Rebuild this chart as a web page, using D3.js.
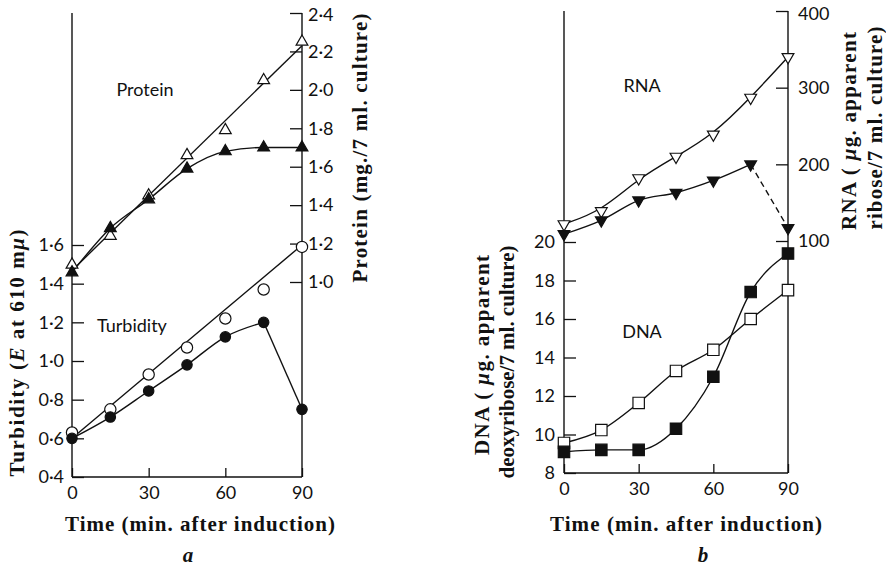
<!DOCTYPE html>
<html><head><meta charset="utf-8">
<script src="https://cdn.jsdelivr.net/npm/d3@7"></script>
<style>
body{margin:0;background:#fff}
svg{display:block}
.tick text{font-family:Lato,"Open Sans",sans-serif;font-size:18px;fill:#111}
.title{font-family:"Liberation Serif","Times New Roman",serif;font-weight:bold;font-size:21px;fill:#111}
.lab{font-family:Lato,"Open Sans",sans-serif;font-size:18px;fill:#111}
</style></head><body>
<svg id="c" width="886" height="567"></svg>
<script>
// ---- data ----
const time = [0, 15, 30, 45, 60, 75, 90];
const timeTicks = [0, 30, 60, 90];
const turbidityControl = [0.63, 0.75, 0.93, 1.07, 1.22, 1.37, 1.59];
const turbidityInduced = [0.60, 0.71, 0.845, 0.98, 1.125, 1.20, 0.75];
const turbidityControlFit = [[0, 0.60], [90, 1.60]];
const proteinControl = [1.09, 1.24, 1.45, 1.66, 1.79, 2.05, 2.25];
const proteinInduced = [1.05, 1.28, 1.43, 1.59, 1.68, 1.70, 1.70];
const proteinControlFit = [[0, 1.06], [90, 2.23]];
const turbidityTicks = [0.4, 0.6, 0.8, 1.0, 1.2, 1.4, 1.6];
const proteinTicks = [1.0, 1.2, 1.4, 1.6, 1.8, 2.0, 2.2, 2.4];
const rnaControl = [122, 139, 182, 210, 239, 287, 340];
const rnaInduced = [109, 127, 153, 163, 179, 200, 117];
const dnaControl = [9.56, 10.23, 11.64, 13.3, 14.4, 16.0, 17.5];
const dnaInduced = [9.1, 9.2, 9.2, 10.3, 13.0, 17.4, 19.4];
const dnaTicks = [8, 10, 12, 14, 16, 18, 20];
const rnaTicks = [100, 200, 300, 400];

const svg = d3.select('#c');
const ink = '#111';
const dot = d => d3.format('.1f')(d).replace('.', '·');

// ---- scales ----
const xa = d3.scaleLinear().domain([0, 90]).range([72, 302]);
const yTurb = d3.scaleLinear().domain([0.4, 1.6]).range([477, 245]);
const yProt = d3.scaleLinear().domain([1.0, 2.4]).range([282, 13]);
const xb = d3.scaleLinear().domain([0, 90]).range([564, 788]);
const yDna = d3.scaleLinear().domain([8, 20]).range([473, 242]);
const yRna = d3.scaleLinear().domain([100, 400]).range([241, 11]);

function styleAxis(g) {
  g.select('.domain').remove();
  g.selectAll('.tick line').attr('stroke', ink).attr('stroke-width', 1.3);
}
function vline(x, y1, y2) {
  svg.append('line').attr('x1', x).attr('x2', x).attr('y1', y1).attr('y2', y2)
    .attr('stroke', ink).attr('stroke-width', 1.4);
}
function hline(x1, x2, y) {
  svg.append('line').attr('x1', x1).attr('x2', x2).attr('y1', y).attr('y2', y)
    .attr('stroke', ink).attr('stroke-width', 1.4);
}

// ---- panel a axes ----
vline(xa(0), yProt(2.4), yTurb(0.4));
vline(xa(90), yProt(2.4), yTurb(0.4));
hline(xa(0), xa(90), yTurb(0.4));
svg.append('g').attr('transform', `translate(${xa(0)},0)`)
  .call(d3.axisLeft(yTurb).tickValues(turbidityTicks).tickFormat(dot).tickSizeInner(-12).tickSizeOuter(0).tickPadding(8))
  .call(styleAxis);
const protAxis = svg.append('g').attr('transform', `translate(${xa(90)},0)`)
  .call(d3.axisRight(yProt).tickValues(proteinTicks).tickFormat(dot).tickSizeInner(-12).tickSizeOuter(0).tickPadding(6))
  .call(styleAxis);
protAxis.selectAll('.tick text').filter(d => d === 2.4).attr('dy', '0.42em');
svg.append('g').attr('transform', `translate(0,${yTurb(0.4)})`)
  .call(d3.axisBottom(xa).tickValues(timeTicks).tickSizeInner(-9).tickSizeOuter(0).tickPadding(9))
  .call(styleAxis);

// ---- panel b axes ----
vline(xb(0), yRna(400), yDna(8));
vline(xb(90), yRna(400), yDna(8));
hline(xb(0), xb(90), yDna(8));
svg.append('g').attr('transform', `translate(${xb(0)},0)`)
  .call(d3.axisLeft(yDna).tickValues(dnaTicks).tickSizeInner(-12).tickSizeOuter(0).tickPadding(9))
  .call(styleAxis);
const rnaAxis = svg.append('g').attr('transform', `translate(${xb(90)},0)`)
  .call(d3.axisRight(yRna).tickValues(rnaTicks).tickSizeInner(-12).tickSizeOuter(0).tickPadding(10))
  .call(styleAxis);
rnaAxis.selectAll('.tick text').filter(d => d === 400).attr('dy', '0.45em');
svg.append('g').attr('transform', `translate(0,${yDna(8)})`)
  .call(d3.axisBottom(xb).tickValues(timeTicks).tickSizeInner(-9).tickSizeOuter(0).tickPadding(9))
  .call(styleAxis);

// ---- lines ----
function drawLine(pts, x, y, curve, dash) {
  const gen = d3.line().x(d => x(d[0])).y(d => y(d[1])).curve(curve);
  svg.append('path').attr('d', gen(pts)).attr('fill', 'none').attr('stroke', ink)
    .attr('stroke-width', 1.4).attr('stroke-dasharray', dash || null);
}
const pairs = vals => time.map((t, i) => [t, vals[i]]);

drawLine(proteinControlFit, xa, yProt, d3.curveLinear);
drawLine(pairs(proteinInduced), xa, yProt, d3.curveMonotoneX);
drawLine(turbidityControlFit, xa, yTurb, d3.curveLinear);
drawLine(pairs(turbidityInduced).slice(0, 6), xa, yTurb, d3.curveMonotoneX);
drawLine(pairs(turbidityInduced).slice(5), xa, yTurb, d3.curveLinear);

drawLine(pairs(rnaControl), xb, yRna, d3.curveBasis);
drawLine(pairs(rnaInduced).slice(0, 6), xb, yRna, d3.curveMonotoneX);
drawLine(pairs(rnaInduced).slice(5), xb, yRna, d3.curveLinear, '6,4');
drawLine(pairs(dnaControl), xb, yDna, d3.curveMonotoneX);
drawLine(pairs(dnaInduced), xb, yDna, d3.curveMonotoneX);

// ---- markers ----
function markers(vals, x, y, type, size, filled, rot) {
  const sym = d3.symbol().type(type).size(size);
  svg.append('g').selectAll('path').data(pairs(vals)).join('path')
    .attr('d', sym)
    .attr('transform', d => `translate(${x(d[0])},${y(d[1])}) rotate(${rot || 0})`)
    .attr('fill', filled ? ink : '#fff')
    .attr('stroke', ink).attr('stroke-width', 1.2);
}
markers(proteinControl, xa, yProt, d3.symbolTriangle, 60, false);
markers(proteinInduced, xa, yProt, d3.symbolTriangle, 60, true);
markers(turbidityControl, xa, yTurb, d3.symbolCircle, 100, false);
markers(turbidityInduced, xa, yTurb, d3.symbolCircle, 85, true);
markers(rnaControl, xb, yRna, d3.symbolTriangle, 60, false, 180);
markers(rnaInduced, xb, yRna, d3.symbolTriangle, 60, true, 180);
markers(dnaControl, xb, yDna, d3.symbolSquare, 130, false);
markers(dnaInduced, xb, yDna, d3.symbolSquare, 130, true);

// ---- in-plot labels ----
svg.append('text').attr('class', 'lab').attr('x', 145).attr('y', 96).attr('text-anchor', 'middle').text('Protein');
svg.append('text').attr('class', 'lab').attr('x', 97).attr('y', 332).text('Turbidity');
svg.append('text').attr('class', 'lab').attr('x', 642).attr('y', 92).attr('text-anchor', 'middle').text('RNA');
svg.append('text').attr('class', 'lab').attr('x', 642).attr('y', 338).attr('text-anchor', 'middle').text('DNA');

// ---- axis titles ----
function title(x, y, rot, parts, len) {
  const t = svg.append('text').attr('class', 'title')
    .attr('transform', `translate(${x},${y}) rotate(${rot})`)
    .attr('text-anchor', 'middle').attr('dy', rot ? '0.35em' : null);
  parts.forEach(p => {
    const s = t.append('tspan').text(p[0]);
    if (p[1]) s.attr('font-style', 'italic');
  });
  if (len) t.attr('textLength', len).attr('lengthAdjust', 'spacing');
}
title(200, 531, 0, [['Time (min. after induction)']], 270);
title(686, 531, 0, [['Time (min. after induction)']], 272);
title(188, 562, 0, [['a', 1]]);
title(703, 562, 0, [['b', 1]]);
title(17, 353, -90, [['Turbidity ('], ['E', 1], [' at 610 m'], ['μ', 1], [')']], 247);
title(360, 148, -90, [['Protein (mg./7 ml. culture)']], 269);
title(849, 131, -90, [['RNA ( '], ['μ', 1], ['g. apparent']], 198);
title(875, 128, -90, [['ribose/7 ml. culture)']], 203);
title(482, 355, -90, [['DNA ( '], ['μ', 1], ['g. apparent']], 200);
title(507, 362, -90, [['deoxyribose/7 ml. culture)']], 233);
</script></body></html>
